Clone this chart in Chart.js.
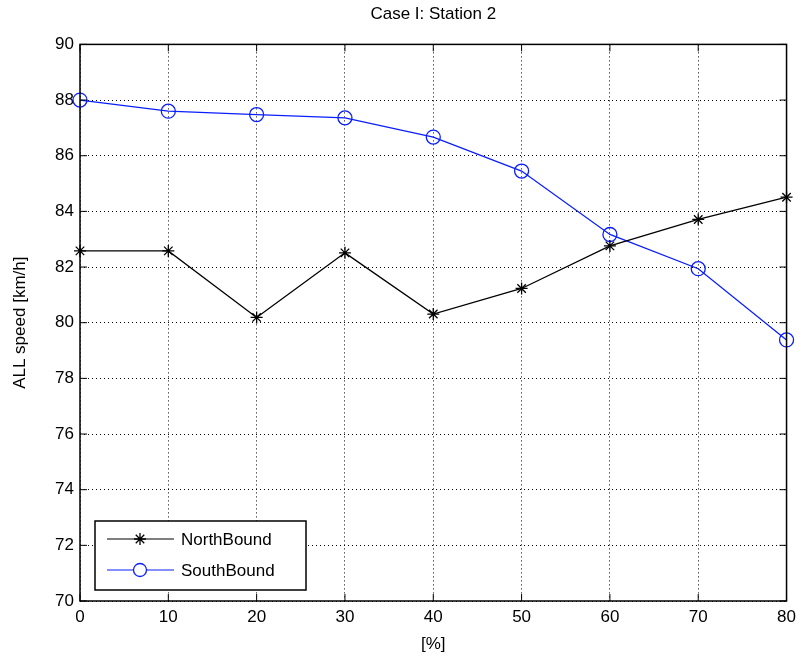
<!DOCTYPE html>
<html>
<head>
<meta charset="utf-8">
<script src="https://cdn.jsdelivr.net/npm/chart.js@4/dist/chart.umd.min.js"></script>
<style>
  html, body { margin: 0; padding: 0; background: #fff; }
  #wrap { width: 802px; height: 661px; }
</style>
</head>
<body>
<div id="wrap"><canvas id="myChart" width="802" height="661"></canvas></div>
<script>
const percents = [0, 10, 20, 30, 40, 50, 60, 70, 80];
const northBound = [82.58, 82.58, 80.19, 82.51, 80.31, 81.23, 82.76, 83.71, 84.51];
const southBound = [88.0, 87.6, 87.48, 87.36, 86.67, 85.45, 83.17, 81.94, 79.38];
const seriesNames = ['NorthBound', 'SouthBound'];

const FONT = '"Liberation Sans", Arial, Helvetica, sans-serif';
const blue = '#0a1eff';

function toPoints(ys) {
  return percents.map((x, i) => ({x: x, y: ys[i]}));
}

// box around the axes, with inward ticks on all four sides, plus the legend box
const frame = {
  id: 'frame',
  afterDraw(chart) {
    const ctx = chart.ctx;
    const a = chart.chartArea;
    const xs = chart.scales.x, ys = chart.scales.y;
    ctx.save();
    ctx.strokeStyle = '#000';
    ctx.lineWidth = 1.5;
    ctx.strokeRect(a.left, a.top, a.right - a.left, a.bottom - a.top);
    ctx.lineWidth = 1;
    const t = 7;
    ctx.beginPath();
    xs.ticks.forEach(tk => {
      const px = xs.getPixelForValue(tk.value);
      ctx.moveTo(px, a.bottom); ctx.lineTo(px, a.bottom - t);
      ctx.moveTo(px, a.top); ctx.lineTo(px, a.top + t);
    });
    ys.ticks.forEach(tk => {
      const py = ys.getPixelForValue(tk.value);
      ctx.moveTo(a.left, py); ctx.lineTo(a.left + t, py);
      ctx.moveTo(a.right, py); ctx.lineTo(a.right - t, py);
    });
    ctx.stroke();

    // legend
    const lx = 95, ly = 521, lw = 211, lh = 69;
    ctx.fillStyle = '#fff';
    ctx.fillRect(lx, ly, lw, lh);
    ctx.lineWidth = 1.5;
    ctx.strokeRect(lx, ly, lw, lh);
    const rows = [
      {y: 539, color: '#000', name: seriesNames[0], star: true},
      {y: 570, color: blue, name: seriesNames[1], star: false}
    ];
    ctx.font = '17px ' + FONT;
    ctx.textBaseline = 'middle';
    rows.forEach(r => {
      ctx.strokeStyle = r.color;
      ctx.lineWidth = 1.2;
      ctx.beginPath();
      ctx.moveTo(107, r.y); ctx.lineTo(174, r.y);
      ctx.stroke();
      ctx.fillStyle = '#fff';
      ctx.lineWidth = 1.3;
      Chart.helpers.drawPoint(ctx, {pointStyle: r.star ? 'star' : 'circle', radius: r.star ? 6 : 6.5, rotation: 0, borderWidth: 1.3}, 140, r.y);
      ctx.fillStyle = '#000';
      ctx.fillText(r.name, 181, r.y + 1);
    });
    ctx.restore();
  }
};

new Chart('myChart', {
  type: 'line',
  data: {
    datasets: [
      {
        label: seriesNames[0],
        data: toPoints(northBound),
        borderColor: '#000',
        backgroundColor: 'transparent',
        borderWidth: 1.3,
        pointStyle: 'star',
        pointRadius: 6,
        pointBorderWidth: 1.3,
        pointBorderColor: '#000',
        tension: 0
      },
      {
        label: seriesNames[1],
        data: toPoints(southBound),
        borderColor: blue,
        backgroundColor: 'transparent',
        borderWidth: 1.3,
        pointStyle: 'circle',
        pointRadius: 7,
        pointBorderWidth: 1.3,
        pointBorderColor: blue,
        pointBackgroundColor: 'transparent',
        tension: 0
      }
    ]
  },
  options: {
    responsive: false,
    animation: false,
    clip: false,
    layout: {padding: {left: 0, right: 14, top: 0, bottom: 0}},
    plugins: {
      legend: {display: false},
      tooltip: {enabled: false},
      title: {
        display: true,
        fullSize: false,
        text: 'Case I: Station 2',
        color: '#000',
        font: {family: FONT, size: 17, weight: 'normal'},
        padding: {top: 4, bottom: 20}
      }
    },
    scales: {
      x: {
        type: 'linear',
        min: 0, max: 80,
        afterFit(s) { s.height = 60; },
        ticks: {stepSize: 10, color: '#000', padding: 6, font: {family: FONT, size: 17}},
        grid: {color: '#000', lineWidth: 1, drawTicks: false, tickLength: 0},
        border: {display: false, dash: [1, 3]},
        title: {display: true, text: '[%]', color: '#000', font: {family: FONT, size: 17}, padding: {top: 2, bottom: 6}}
      },
      y: {
        min: 70, max: 90,
        afterFit(s) { s.width = 80; },
        ticks: {stepSize: 2, color: '#000', padding: 6, font: {family: FONT, size: 17}},
        grid: {color: '#000', lineWidth: 1, drawTicks: false, tickLength: 0},
        border: {display: false, dash: [1, 3]},
        title: {display: true, text: 'ALL speed [km/h]', color: '#000', font: {family: FONT, size: 17}, padding: {top: 10, bottom: 0}}
      }
    }
  },
  plugins: [frame]
});
</script>
</body>
</html>
